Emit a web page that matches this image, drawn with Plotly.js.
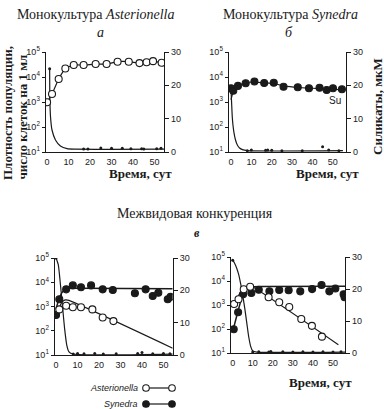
<!DOCTYPE html>
<html><head><meta charset="utf-8">
<script src="https://cdn.plot.ly/plotly-3.0.1.min.js"></script>
<style>html,body{margin:0;padding:0;background:#fff}#chart{width:384px;height:409px}</style>
</head><body><div id="chart"></div>
<script>
// ---------- data (days; density cells/ml; silicate µM) ----------
// Panel a: monoculture Asterionella
const astA_days = [0, 2.3, 5.4, 8.5, 12.4, 17, 22.6, 27.7, 32.8, 38, 43, 46.3, 49.3, 53.3];
const astA_vals = [980, 2100, 8300, 22000, 30000, 30000, 33000, 33000, 41000, 41000, 36000, 39000, 43000, 37000];
const siA_curveDays = [1.2, 1.3, 1.6, 2.3, 3.9, 6.2, 9.3, 13, 54.5];
const siA_curve = [25, 16, 10.6, 6.6, 3.6, 1.8, 1.0, 0.85, 0.85];
const siA_dotDays = [1.2, 17, 19, 25, 30, 35, 39, 44, 45, 51, 53];
const siA_dots = [25, 0.9, 0.9, 1.2, 1.1, 1.1, 1.0, 1.0, 0.9, 1.0, 1.1];

// Panel b: monoculture Synedra
const synB_days = [0, 1.1, 3.4, 7.2, 11.5, 16.3, 21, 25.8, 32.8, 38.3, 43.5, 47, 50.1, 54.5];
const synB_vals = [3550, 2800, 4400, 5600, 6600, 5750, 5900, 4100, 3900, 3550, 3700, 3000, 3550, 3250];
const synB_fitDays = [0, 1, 2, 4, 7, 11, 16, 21, 26, 33, 40, 47, 55];
const synB_fit = [1250, 2500, 3550, 4800, 5750, 6300, 5900, 5500, 4400, 3800, 3550, 3300, 3150];
const siB_curveDays = [0, 0.3, 0.6, 1, 1.5, 2.2, 3.1, 4.2, 5.6, 8, 55];
const siB_curve = [18.6, 14.5, 10.6, 7.8, 5.6, 3.6, 2.1, 1.2, 0.7, 0.4, 0.4];
const siB_dotDays = [8, 10, 17, 18, 20, 25, 35, 45, 48, 53];
const siB_dots = [0.4, 0.6, 0.5, 0.6, 0.5, 0.4, 0.4, 1.6, 0.6, 0.4];

// Panel c: competition (experiment 1)
const synC_days = [0, 1.5, 4.7, 7.8, 11.6, 16.3, 21.7, 26.4, 36.7, 41.7, 45, 47.6, 52, 53.3];
const synC_vals = [450, 2000, 5100, 7400, 6200, 7400, 5100, 4800, 3500, 5100, 2700, 3700, 2000, 2500];
const synC_fitDays = [0, 1, 2, 3, 4, 5, 7, 10, 54.3];
const synC_fit = [800, 1600, 2800, 4000, 5000, 5500, 5600, 5600, 5400];
const astC_days = [1.5, 4.7, 7.8, 11.6, 16.9, 21.7, 26.7];
const astC_vals = [760, 1070, 930, 930, 760, 350, 250];
const astC_fitDays = [1.5, 2.5, 3.5, 4.5, 6, 54.3];
const astC_fit = [890, 1400, 1740, 1860, 1780, 19];
const siC_curveDays = [0, 1, 2, 3, 4, 5, 6, 8, 54.3];
const siC_curve = [30, 28, 22, 15, 8, 3, 1, 0.3, 0.3];
const siC_dotDays = [0, 8, 10, 13, 18, 22, 28, 38, 40, 45, 50, 53];
const siC_dots = [30, 0.3, 0.5, 0.4, 0.5, 0.3, 0.4, 0.5, 0.8, 0.4, 0.5, 0.4];

// Panel d: competition (experiment 2)
const astD_days = [0.7, 2.9, 5.5, 8.7, 17.9, 23.2, 28.2, 34.2, 39.5, 44.5];
const astD_vals = [1100, 1740, 4500, 5750, 2100, 1300, 830, 260, 135, 48];
const astD_fitDays = [0, 2, 4, 6, 8, 10, 52.7];
const astD_fit = [890, 1800, 3550, 5400, 6200, 5600, 22];
const synD_days = [0.5, 2.7, 5.2, 9.3, 13.0, 18.3, 23.2, 27.9, 33.7, 39.6, 44.3, 48.2, 51.2, 55.3, 55.8];
const synD_vals = [98, 500, 2800, 3200, 4300, 3700, 4200, 4100, 3700, 4600, 6800, 3700, 4900, 2800, 2100];
const synD_fitDays = [0, 2, 4, 6, 8, 10, 15, 56];
const synD_fit = [80, 350, 1400, 3550, 5250, 5750, 5900, 6000];
const siD_curveDays = [0, 1, 2, 3, 4, 5, 6, 7, 8, 9, 10, 12, 56];
const siD_curve = [29, 28, 26.5, 24.5, 21.5, 18, 14, 9.5, 5, 2, 0.6, 0.3, 0.3];
const siD_dotDays = [0, 10, 13, 18, 19, 25, 30, 35, 40, 45, 50, 54];
const siD_dots = [29, 0.3, 0.4, 0.3, 0.5, 0.4, 0.3, 0.4, 0.3, 0.4, 0.3, 0.4];

// tick labels
const logTickVals = [10, 100, 1000, 10000, 100000];
const logTickText = ['10<sup>1</sup>', '10<sup>2</sup>', '10<sup>3</sup>', '10<sup>4</sup>', '10<sup>5</sup>'];
const siTickVals = [0, 10, 20, 30];
const dayTickVals = [0, 10, 20, 30, 40, 50];

// ---------- helpers ----------
const W = 384, H = 409;
const px = v => v / W;
const py = v => 1 - v / H;
const INK = '#1a1a1a';
const tickFont = {family: 'Liberation Sans, Arial, sans-serif', size: 9, color: INK};

function curve(x, y, xa, ya, w) {
  return {x, y, xaxis: xa, yaxis: ya, mode: 'lines', type: 'scatter',
    line: {color: INK, width: w || 1.2, shape: 'spline', smoothing: 0.6}, hoverinfo: 'skip'};
}
function dots(x, y, xa, ya) {
  return {x, y, xaxis: xa, yaxis: ya, mode: 'markers', type: 'scatter',
    marker: {color: INK, size: 3, symbol: 'circle'}, hoverinfo: 'skip'};
}
function circles(x, y, xa, ya, open) {
  return {x, y, xaxis: xa, yaxis: ya, mode: 'markers', type: 'scatter',
    marker: {size: 7, symbol: 'circle', color: open ? '#fff' : INK, line: {color: INK, width: 1.1}}, hoverinfo: 'skip'};
}
function circlesLine(x, y, xa, ya, open) {
  const t = circles(x, y, xa, ya, open);
  t.mode = 'lines+markers';
  t.line = {color: INK, width: 1.2, shape: 'spline', smoothing: 0.5};
  return t;
}

const traces = [
  // a
  curve(siA_curveDays, siA_curve, 'x', 'y'),
  dots(siA_dotDays, siA_dots, 'x', 'y'),
  circlesLine(astA_days, astA_vals, 'x', 'y2', true),
  // b
  curve(siB_curveDays, siB_curve, 'x2', 'y3'),
  dots(siB_dotDays, siB_dots, 'x2', 'y3'),
  curve(synB_fitDays, synB_fit, 'x2', 'y4'),
  circles(synB_days, synB_vals, 'x2', 'y4', false),
  // c
  curve(siC_curveDays, siC_curve, 'x3', 'y5'),
  dots(siC_dotDays, siC_dots, 'x3', 'y5'),
  curve(synC_fitDays, synC_fit, 'x3', 'y6', 1.5),
  curve(astC_fitDays, astC_fit, 'x3', 'y6'),
  circles(synC_days, synC_vals, 'x3', 'y6', false),
  circles(astC_days, astC_vals, 'x3', 'y6', true),
  // d
  curve(siD_curveDays, siD_curve, 'x4', 'y7'),
  dots(siD_dotDays, siD_dots, 'x4', 'y7'),
  curve(synD_fitDays, synD_fit, 'x4', 'y8', 1.5),
  curve(astD_fitDays, astD_fit, 'x4', 'y8'),
  circles(synD_days, synD_vals, 'x4', 'y8', false),
  circles(astD_days, astD_vals, 'x4', 'y8', true)
];

function xAx(left, right, range, anchor) {
  return {domain: [px(left), px(right)], range, anchor, tickvals: dayTickVals,
    showline: true, linecolor: INK, linewidth: 1.3, ticks: '', showgrid: false, zeroline: false,
    tickfont: tickFont, ticklabelstandoff: 1};
}
function siAx(top, bottom, anchor) {
  return {domain: [py(bottom), py(top)], range: [0, 30], anchor, side: 'right', tickvals: siTickVals,
    showline: true, linecolor: INK, linewidth: 1.3, ticks: 'outside', ticklen: 4, tickcolor: INK,
    showgrid: false, zeroline: false, tickfont: tickFont};
}
function logAx(overlay, anchor) {
  return {overlaying: overlay, anchor, side: 'left', type: 'log', range: [1, 5],
    tickvals: logTickVals, ticktext: logTickText, showline: true, linecolor: INK, linewidth: 1.3,
    ticks: 'outside', ticklen: 3, tickcolor: INK, showgrid: false, zeroline: false, tickfont: tickFont};
}

const serif = 'Liberation Serif, Times New Roman, serif';
function ann(text, x, y, opts) {
  return Object.assign({text, x: px(x), y: py(y), xref: 'paper', yref: 'paper', showarrow: false,
    xanchor: 'center', yanchor: 'middle', font: {family: serif, size: 14, color: INK}}, opts || {});
}
const boldFont = {family: serif, size: 13, color: INK, weight: 'bold'};

const annotations = [
  ann('Монокультура <i>Asterionella</i>', 96, 14),
  ann('<i>а</i>', 100, 32),
  ann('Монокультура <i>Synedra</i>', 290, 14),
  ann('<i>б</i>', 289, 32),
  ann('Межвидовая конкуренция', 195, 213),
  ann('<b><i>в</i></b>', 197, 233, {font: {family: serif, size: 12, color: INK}}),
  ann('<b>Плотность популяции,</b>', 8, 182, {textangle: -90, yanchor: 'bottom', font: boldFont}),
  ann('<b>число клеток на 1 мл</b>', 22, 182, {textangle: -90, yanchor: 'bottom', font: boldFont}),
  ann('<b>Силикаты, мкМ</b>', 377, 107, {textangle: -90, font: boldFont}),
  ann('<b>Время, сут</b>', 140, 173, {font: boldFont}),
  ann('<b>Время, сут</b>', 327, 173, {font: boldFont}),
  ann('<b>Время, сут</b>', 320, 382, {font: boldFont}),
  ann('Su', 335, 101, {font: {family: 'Liberation Sans, Arial, sans-serif', size: 10, color: INK}}),
  ann('<i>Asterionella</i>', 140, 388, {xanchor: 'right', font: {family: 'Liberation Sans, Arial, sans-serif', size: 9, color: INK}}),
  ann('<i>Synedra</i>', 140, 404, {xanchor: 'right', font: {family: 'Liberation Sans, Arial, sans-serif', size: 9, color: INK}})
];

function legCircle(cx, cy, open) {
  const r = 3.3;
  return {type: 'circle', xref: 'paper', yref: 'paper', x0: px(cx - r), x1: px(cx + r), y0: py(cy + r), y1: py(cy - r),
    line: {color: INK, width: 1.1}, fillcolor: open ? '#fff' : INK, layer: 'above'};
}
function legLine(x0, x1, y) {
  return {type: 'line', xref: 'paper', yref: 'paper', x0: px(x0), x1: px(x1), y0: py(y), y1: py(y),
    line: {color: INK, width: 1.2}, layer: 'above'};
}
const shapes = [
  legLine(146, 172, 388), legCircle(146, 388, true), legCircle(172, 388, true),
  legLine(146, 172, 404), legCircle(146, 404, false), legCircle(172, 404, false)
];

const layout = {
  width: W, height: H, margin: {l: 0, r: 0, t: 0, b: 0},
  paper_bgcolor: '#fff', plot_bgcolor: 'rgba(0,0,0,0)', showlegend: false,
  xaxis: xAx(46, 164, [-0.5, 54.4], 'y'),
  yaxis: siAx(52, 152, 'x'),
  yaxis2: logAx('y', 'x'),
  xaxis2: xAx(229, 346, [-1, 56.5], 'y3'),
  yaxis3: siAx(52, 152, 'x2'),
  yaxis4: logAx('y3', 'x2'),
  xaxis3: xAx(55, 172.7, [-0.5, 54.3], 'y5'),
  yaxis5: siAx(258, 355, 'x3'),
  yaxis6: logAx('y5', 'x3'),
  xaxis4: xAx(231, 345, [-0.85, 56], 'y7'),
  yaxis7: siAx(257, 353, 'x4'),
  yaxis8: logAx('y7', 'x4'),
  annotations, shapes
};

Plotly.newPlot('chart', traces, layout, {staticPlot: true, displayModeBar: false});
</script></body></html>
